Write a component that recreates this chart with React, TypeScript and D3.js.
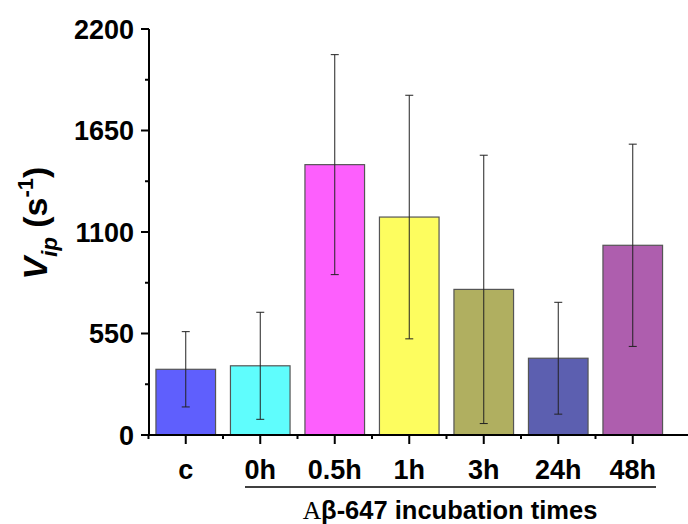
import React, { useEffect, useRef } from 'react';
import * as d3 from 'd3';

const categories = ['c', '0h', '0.5h', '1h', '3h', '24h', '48h'];
const means = [356, 375, 1465, 1181, 789, 416, 1028];
const errors = [204, 290, 596, 660, 727, 303, 548];
const colors = ['#5f5ffd', '#5ffdfd', '#fd5ffd', '#fdfd5f', '#b0af60', '#5c5fb0', '#ae5eae'];
const yTicks = [0, 550, 1100, 1650, 2200];

const W = 688;
const H = 524;
const FONT = '"Liberation Sans", Arial, sans-serif';

const App: React.FC = () => {
  const svgRef = useRef<SVGSVGElement>(null);

  useEffect(() => {
    if (!svgRef.current) return;
    const svg = d3.select(svgRef.current);
    svg.selectAll('*').remove();

    const x0 = 148.5;
    const step = 74.5;
    const x = d3
      .scaleBand<string>()
      .domain(categories)
      .range([x0, x0 + step * categories.length])
      .paddingInner(0.2)
      .paddingOuter(0.1);
    const y = d3.scaleLinear().domain([0, 2200]).range([435, 29]);

    const data = categories.map((c, i) => ({ c, v: means[i], e: errors[i], col: colors[i] }));

    // bars
    svg
      .selectAll('.bar')
      .data(data)
      .enter()
      .append('rect')
      .attr('x', d => x(d.c)!)
      .attr('y', d => y(d.v))
      .attr('width', x.bandwidth())
      .attr('height', d => y(0) - y(d.v))
      .attr('fill', d => d.col)
      .attr('stroke', '#555')
      .attr('stroke-width', 1.2);

    // error bars
    const eb = svg.selectAll('.err').data(data).enter().append('g');
    const cx = (d: { c: string }) => x(d.c)! + x.bandwidth() / 2;
    eb.append('line')
      .attr('x1', cx).attr('x2', cx)
      .attr('y1', d => y(d.v + d.e)).attr('y2', d => y(d.v - d.e))
      .attr('stroke', '#222').attr('stroke-width', 1);
    [1, -1].forEach(s => {
      eb.append('line')
        .attr('x1', d => cx(d) - 4).attr('x2', d => cx(d) + 4)
        .attr('y1', d => y(d.v + s * d.e)).attr('y2', d => y(d.v + s * d.e))
        .attr('stroke', '#222').attr('stroke-width', 1);
    });

    // y axis
    const yAxis = svg.append('g').attr('transform', 'translate(149,0)');
    yAxis.append('line').attr('y1', y(2200)).attr('y2', y(0) + 1).attr('stroke', '#000').attr('stroke-width', 2);
    d3.range(0, 2201, 275).forEach(v => {
      const major = v % 550 === 0;
      yAxis.append('line')
        .attr('x1', major ? -8 : -4).attr('x2', 0)
        .attr('y1', y(v)).attr('y2', y(v))
        .attr('stroke', '#000').attr('stroke-width', 2);
    });
    yAxis.selectAll('.yt')
      .data(yTicks)
      .enter()
      .append('text')
      .attr('x', -15)
      .attr('y', d => y(d))
      .attr('dy', '0.36em')
      .attr('text-anchor', 'end')
      .style('font-family', FONT)
      .style('font-weight', 'bold')
      .style('font-size', '27px')
      .text(d => d);

    // x axis
    const xAxis = svg.append('g').attr('transform', 'translate(0,435)');
    xAxis.append('line').attr('x1', 148).attr('x2', W).attr('stroke', '#000').attr('stroke-width', 2);
    categories.forEach((c, i) => {
      const cxp = x(c)! + x.bandwidth() / 2;
      xAxis.append('line').attr('x1', cxp).attr('x2', cxp).attr('y1', 0).attr('y2', 9)
        .attr('stroke', '#000').attr('stroke-width', 2);
      const bx = x0 + i * step;
      xAxis.append('line').attr('x1', bx).attr('x2', bx).attr('y1', 0).attr('y2', 4)
        .attr('stroke', '#000').attr('stroke-width', 2);
    });
    xAxis.selectAll('.xt')
      .data(categories)
      .enter()
      .append('text')
      .attr('x', d => x(d)! + x.bandwidth() / 2)
      .attr('y', 44)
      .attr('text-anchor', 'middle')
      .style('font-family', FONT)
      .style('font-weight', 'bold')
      .style('font-size', '27px')
      .text(d => d);

    // group bracket
    svg.append('line').attr('x1', 245).attr('x2', 656).attr('y1', 487).attr('y2', 487)
      .attr('stroke', '#000').attr('stroke-width', 1.5);
    const g = svg.append('text')
      .attr('x', 450).attr('y', 519)
      .attr('text-anchor', 'middle')
      .style('font-family', FONT)
      .style('font-weight', 'bold')
      .style('font-size', '25.5px');
    g.append('tspan').style('font-family', '"Liberation Serif", serif').style('font-weight', 'normal').text('A');
    g.append('tspan').text('β-647 incubation times');

    // y label
    const yl = svg.append('text')
      .attr('transform', 'translate(47,223) rotate(-90)')
      .attr('text-anchor', 'middle')
      .style('font-family', FONT)
      .style('font-weight', 'bold')
      .style('font-size', '34px');
    yl.append('tspan').style('font-style', 'italic').text('V');
    yl.append('tspan').style('font-style', 'italic').style('font-size', '22px').attr('dy', 10).text('ip');
    yl.append('tspan').attr('dy', -10).text(' (s');
    yl.append('tspan').style('font-size', '22px').attr('dy', -14).text('-1');
    yl.append('tspan').attr('dy', 14).text(')');
  }, []);

  return (
    <div style={{ position: 'absolute', left: 0, top: 0, width: W, height: H, background: '#fff' }}>
      <svg ref={svgRef} width={W} height={H} />
    </div>
  );
};

export default App;
